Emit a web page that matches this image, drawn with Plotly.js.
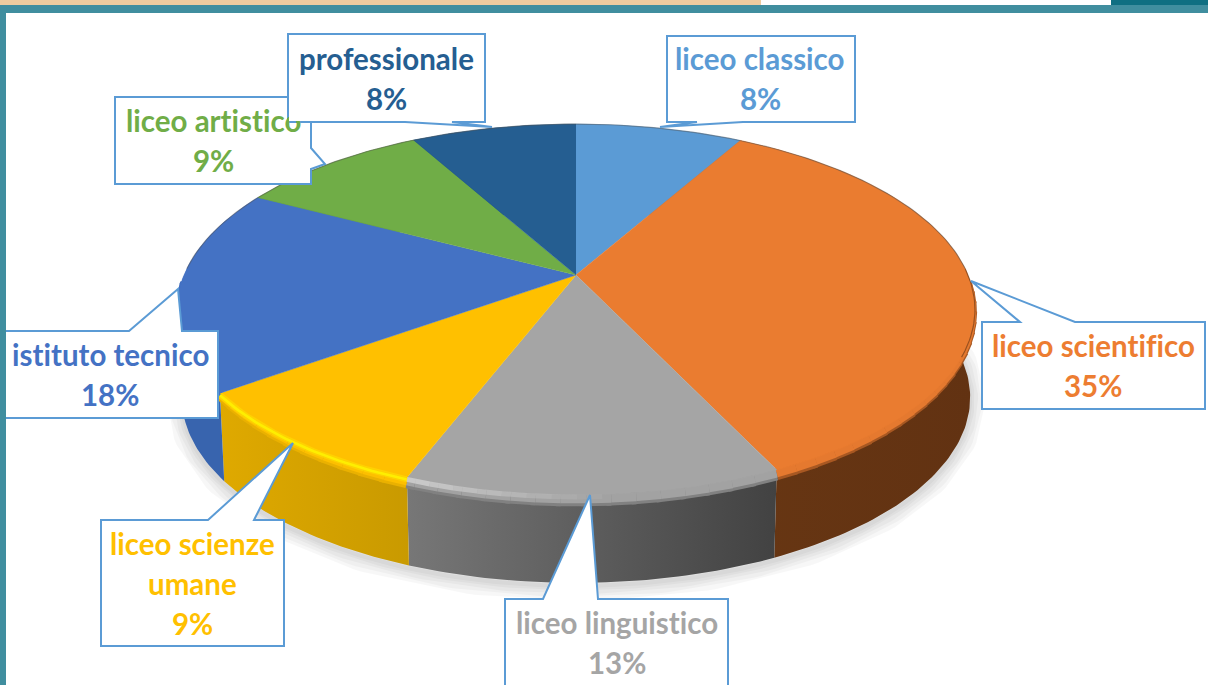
<!DOCTYPE html>
<html>
<head>
<meta charset="utf-8">
<script src="https://cdn.plot.ly/plotly-3.0.1.min.js"></script>
<style>html,body{margin:0;padding:0;background:#fff;overflow:hidden}
svg text{font-variant-ligatures:none;font-feature-settings:"liga" 0}</style>
</head>
<body>
<div id="chart" style="width:1208px;height:685px"></div>
<script>
// ---- data (labels show the rounded percentages) ----
const categories = ['liceo classico','liceo scientifico','liceo linguistico','liceo scienze umane','istituto tecnico','liceo artistico','professionale'];
const values = [8.1,34.9,12.8,9.2,17.8,9.2,8];
const topColors = ['#5b9bd5','#ea7c30','#a5a5a5','#ffc000','#4472c4','#70ad47','#255e91'];
const wallLeft  = ['#4a80b0','#673613','#777777','#dfa900','#3864ae','#5a8c39','#1e4c76'];
const wallRight = ['#4a80b0','#623212','#424242','#c99a00','#3864ae','#5a8c39','#1e4c76'];

// ---- projection of the tilted disc ----
const cx = 576, cy = 275, RX = 392, RY = 179, K = 0.186, DEPTH = 88, SHRINK = 0.988;
function rim(deg, low) {
  const t = deg * Math.PI / 180, u = Math.sin(t), v = -Math.cos(t), s = 1 / (1 - K * v);
  const x = RX * u * s, y = RY * v * s;
  return low ? [cx + x * SHRINK, cy + y + DEPTH] : [cx + x, cy + y];
}
function arc(a, b, low) {
  const n = Math.max(2, Math.ceil(Math.abs(b - a))), pts = [];
  for (let i = 0; i <= n; i++) pts.push(rim(a + (b - a) * i / n, low));
  return pts;
}
const xs = p => p.map(q => q[0]), ys = p => p.map(q => q[1]);
function hexMix(c1, c2, f) {
  const p = c => [1, 3, 5].map(i => parseInt(c.slice(i, i + 2), 16));
  const a = p(c1), b = p(c2);
  return '#' + a.map((v, i) => Math.round(v + (b[i] - v) * f).toString(16).padStart(2, '0')).join('');
}

const total = values.reduce((a, b) => a + b, 0);
let acc = 0;
const spans = values.map(v => { const a = acc / total * 360; acc += v; return [a, acc / total * 360]; });

const traces = [];
function stroke(pts, color, width, opacity, dy) {
  traces.push({x: xs(pts), y: ys(pts).map(y => y + (dy || 0)), type: 'scatter', mode: 'lines', hoverinfo: 'skip',
               opacity: opacity === undefined ? 1 : opacity, line: {color, width}});
}
// soft shadow under the disc
const full = arc(0, 360, true).map(p => [p[0], p[1] + 3]);
[30, 23, 16, 9, 4].forEach(w => stroke(full, 'rgba(0,0,0,0.03)', w));
// side walls
categories.forEach((c, i) => {
  const [a, b] = spans[i];
  const poly = arc(a, b, false).concat(arc(a, b, true).reverse());
  traces.push({
    x: xs(poly), y: ys(poly), type: 'scatter', mode: 'lines', fill: 'toself', hoverinfo: 'skip',
    line: {width: 0, color: wallLeft[i]}, fillcolor: wallLeft[i],
    fillgradient: {type: 'horizontal', colorscale: [[0, wallLeft[i]], [1, wallRight[i]]]}
  });
});
// rounded bevel: the top colour rolls over the front rim
const STEP = 3;
categories.forEach((c, i) => {
  const [a, b] = spans[i], lo = Math.max(a, 92), hi = Math.min(b, 268);
  const wallMid = hexMix(wallLeft[i], wallRight[i], 0.5);
  for (let d = lo; d < hi; d += STEP) {
    const e = Math.min(d + STEP + 0.6, hi), f = Math.abs(Math.cos((d + e) / 2 * Math.PI / 180));
    const seg = arc(d, e, false);
    stroke(seg, hexMix(topColors[i], wallMid, 0.5), 2 + 11 * f, 1, 5 * f);
    stroke(seg, hexMix(topColors[i], wallMid, 0.04), 1 + 8 * f, 1, 4 * f);
  }
});
// top faces
categories.forEach((c, i) => {
  const [a, b] = spans[i];
  const poly = [[cx, cy]].concat(arc(a, b, false));
  traces.push({
    x: xs(poly), y: ys(poly), type: 'scatter', mode: 'lines', fill: 'toself', name: c,
    text: c + ': ' + Math.round(values[i]) + '%', hoverinfo: 'text',
    line: {width: 0.5, color: topColors[i]}, fillcolor: topColors[i]
  });
});
// light catching the left part of the rim
const ySpan = spans[3], gSpan = spans[2];
const yArc = arc(ySpan[0], ySpan[1], false);
stroke(yArc, '#ffe800', 6, 0.45, 2);
stroke(yArc, '#fff000', 2.6, 0.95, 2);
for (let d = gSpan[1] - 3; d > gSpan[1] - 27; d -= 3) {
  const o = (d - (gSpan[1] - 27)) / 27;
  stroke(arc(d, d + 3, false), '#d8d8d8', 5, 0.8 * o, 2);
}
// thin dark edge round the back
[arc(272, 360, false), arc(0, 88, false)].forEach(r => stroke(r, 'rgba(80,80,80,0.45)', 1.2));
stroke(arc(88, 115, false), 'rgba(60,30,10,0.45)', 1.2);

// ---- callouts ----
const edge = '#5b9bd5';
function callout(path) {
  return {type: 'path', xref: 'x', yref: 'y', layer: 'above', path, fillcolor: '#ffffff', line: {color: edge, width: 2}};
}
const shapes = [
  callout('M667 36 L855 36 L855 122 L743 122 L660 127 L697 122 L667 122 Z'),
  callout('M982 322 L1020 322 L971 281 L1075 322 L1205 322 L1205 409 L982 409 Z'),
  callout('M505 599 L543 599 L590 495 L598 599 L728 599 L728 720 L505 720 Z'),
  callout('M101 520 L208 520 L293 443 L254 520 L284 520 L284 646 L101 646 Z'),
  callout('M4 331 L129 331 L178 289 L182 331 L218 331 L218 418 L4 418 Z'),
  callout('M115 97 L311 97 L311 148 L325 164 L311 169 L311 184 L115 184 Z'),
  callout('M288 34 L485 34 L485 122 L452 122 L492 127 L405 122 L288 122 Z')
];
// page frame
function band(x0, y0, x1, y1, col) {
  return {type: 'rect', xref: 'x', yref: 'y', layer: 'above', x0, y0, x1, y1, fillcolor: col, line: {width: 0}};
}
shapes.push(band(0, 0, 761, 5, '#eecb9f'), band(1111, 0, 1208, 5, '#0f6f82'),
            band(0, 5, 1208, 13, '#408e9f'), band(0, 5, 6, 685, '#408e9f'));

// ---- label text ----
const pct = values.map(v => Math.round(v) + '%');
function line(txt, x, y, col) {
  return {xref: 'x', yref: 'y', x, y, text: '<b>' + txt + '</b>', showarrow: false, xanchor: 'center', yanchor: 'middle',
          font: {family: 'Lato, Carlito, sans-serif', size: 29.5, color: col}};
}
const annotations = [
  line(categories[0], 760, 58, topColors[0]), line(pct[0], 760, 98, topColors[0]),
  line(categories[1], 1093, 345, '#ed7d31'), line(pct[1], 1093, 385, '#ed7d31'),
  line(categories[2], 617, 622, topColors[2]), line(pct[2], 617, 662, topColors[2]),
  line('liceo scienze', 192, 543, topColors[3]), line('umane', 192, 583, topColors[3]), line(pct[3], 192, 623, topColors[3]),
  line(categories[4], 110, 354, topColors[4]), line(pct[4], 110, 394, topColors[4]),
  line(categories[5], 213, 120, topColors[5]), line(pct[5], 213, 160, topColors[5]),
  // inside of the "professionale" callout lies over the neighbouring label
  {xref: 'x', yref: 'y', x: 386.5, y: 78, text: ' ', showarrow: false, width: 195, height: 86, bgcolor: '#ffffff',
   borderwidth: 0, borderpad: 0, xanchor: 'center', yanchor: 'middle'},
  line(categories[6], 386, 58, topColors[6]), line(pct[6], 386, 98, topColors[6])
];

Plotly.newPlot('chart', traces, {
  width: 1208, height: 685, autosize: false, showlegend: false,
  margin: {l: 0, r: 0, t: 0, b: 0}, paper_bgcolor: '#ffffff', plot_bgcolor: '#ffffff',
  xaxis: {range: [0, 1208], visible: false, fixedrange: true},
  yaxis: {range: [685, 0], visible: false, fixedrange: true},
  shapes, annotations
}, {displayModeBar: false});
</script>
</body>
</html>
